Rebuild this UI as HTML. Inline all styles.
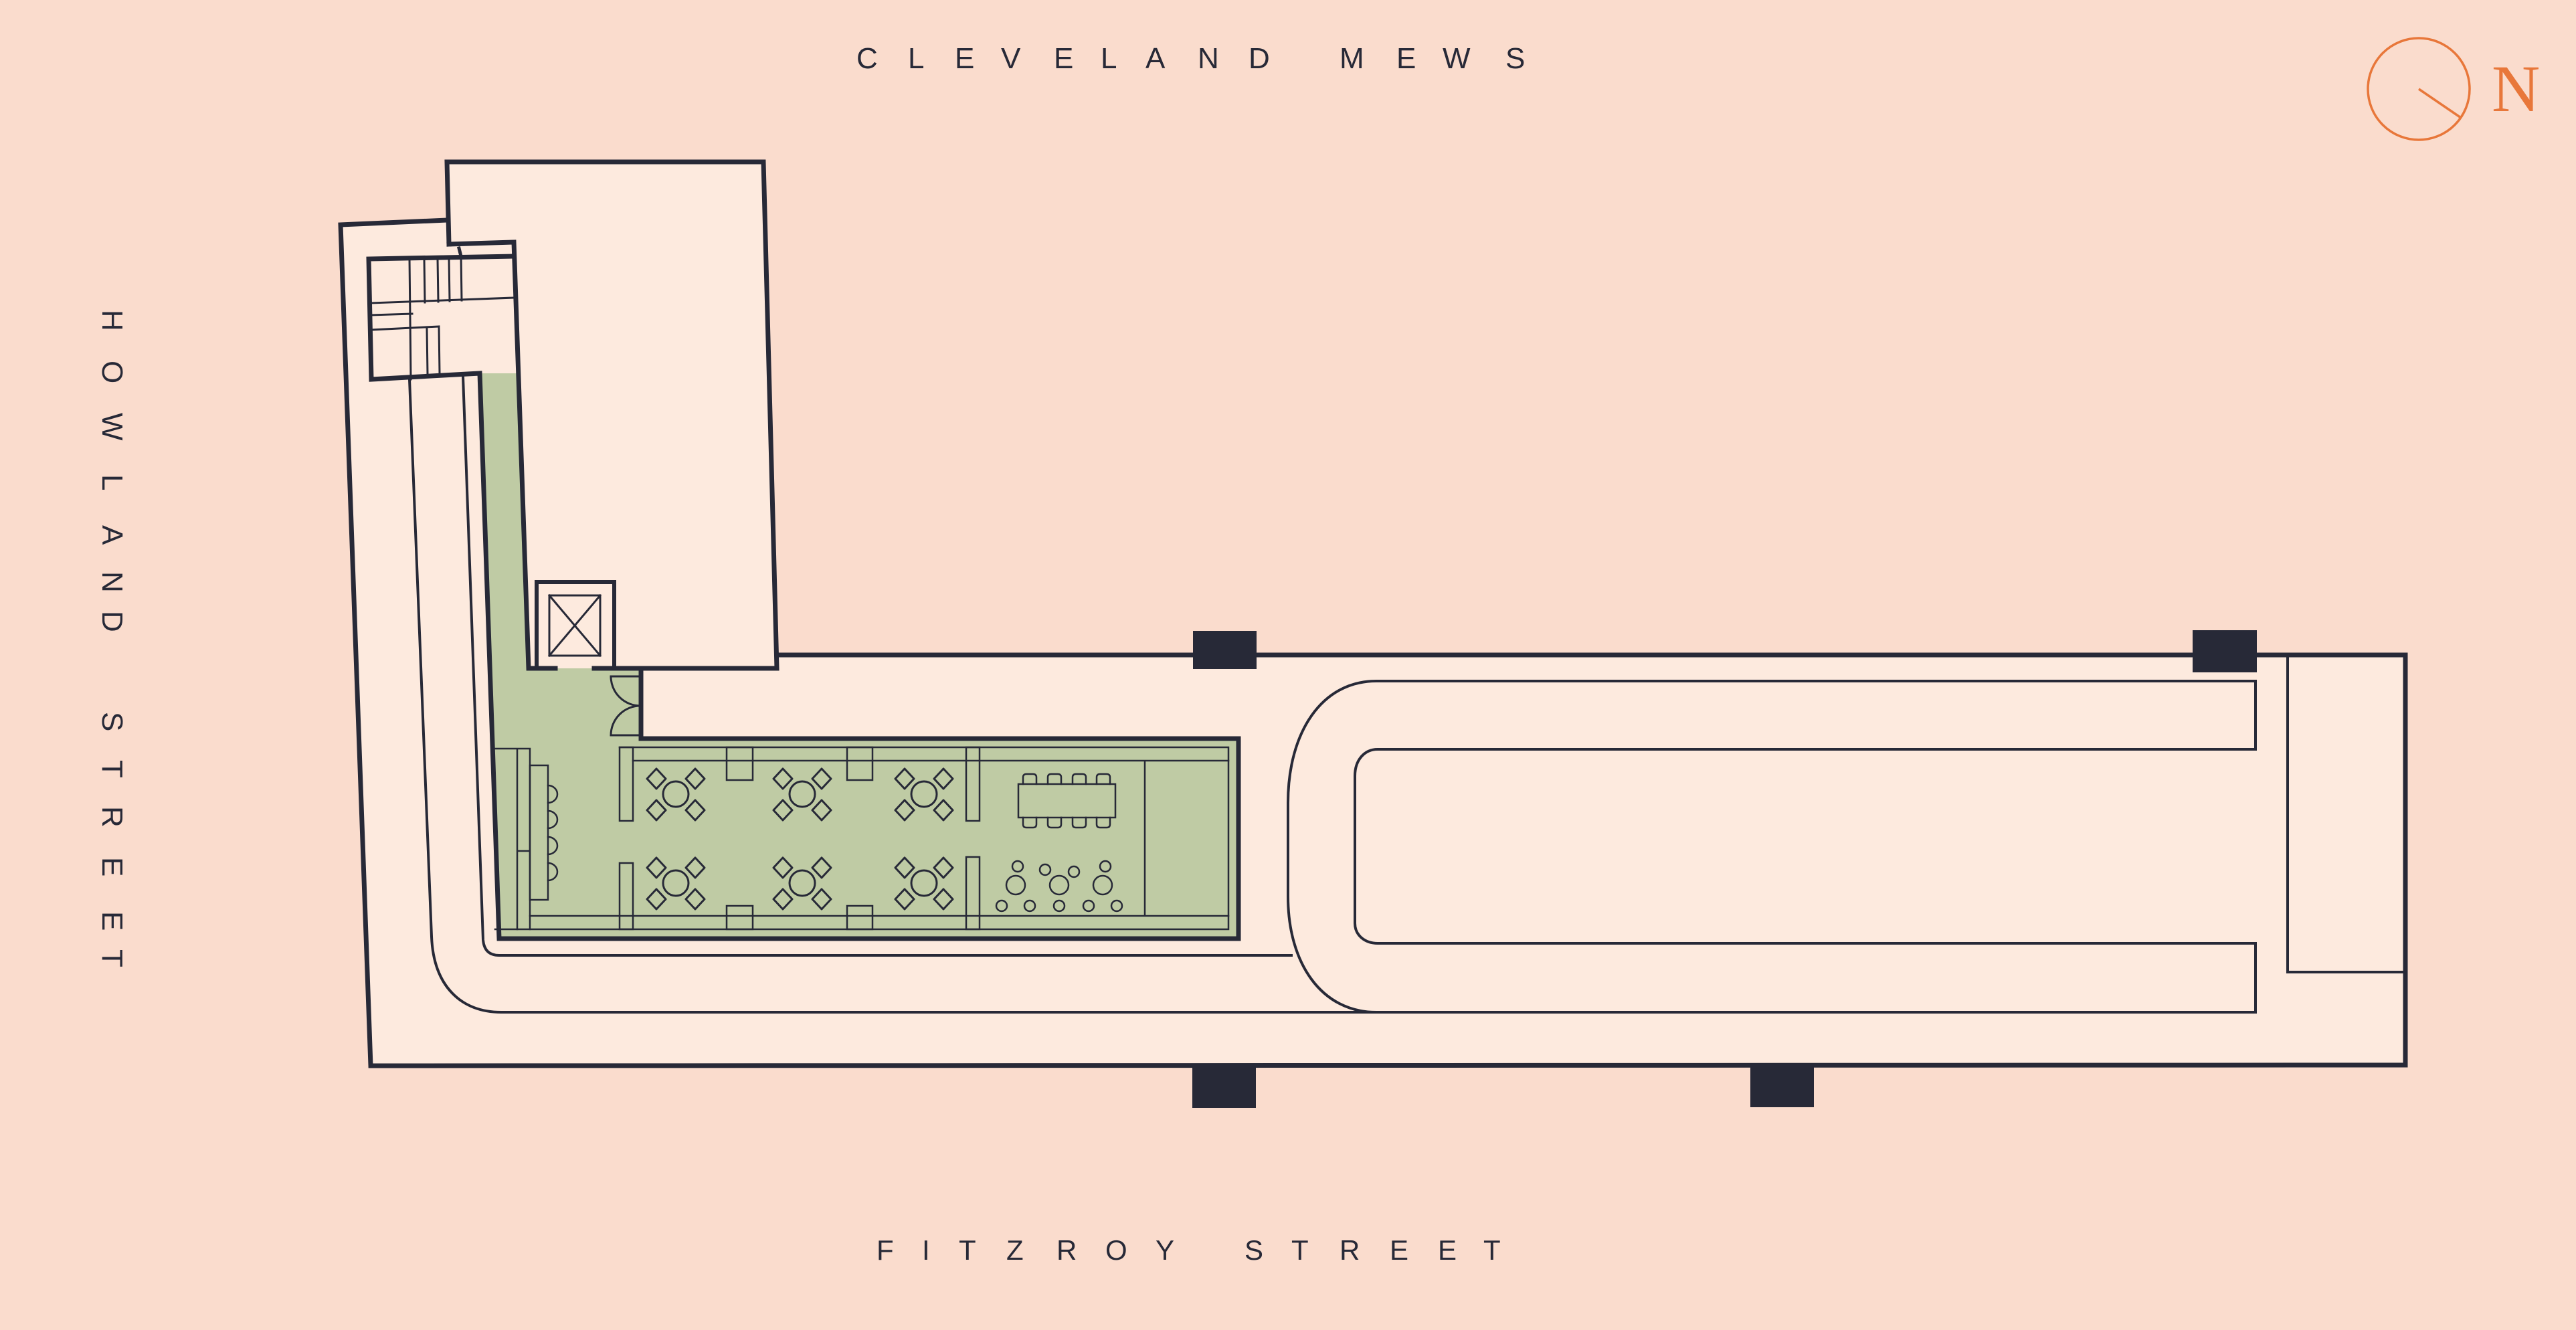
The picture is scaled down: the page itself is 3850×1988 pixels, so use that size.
<!DOCTYPE html>
<html><head><meta charset="utf-8"><style>
html,body{margin:0;padding:0;background:#fadccd;}
svg{display:block;}
text{font-family:"Liberation Sans",sans-serif;fill:#272937;}
</style></head><body>
<svg width="3850" height="1988" viewBox="0 0 3850 1988" xmlns="http://www.w3.org/2000/svg">
<defs>
<g id="tbl" fill="none" stroke="#272937" stroke-width="3" stroke-linejoin="round">
<circle cx="0" cy="0" r="19"/>
<path d="M-29,-38 L-15,-23 L-29,-8 L-43,-23Z"/>
<path d="M29,-38 L43,-23 L29,-8 L15,-23Z"/>
<path d="M-29,9 L-15,24 L-29,39 L-43,24Z"/>
<path d="M29,9 L43,24 L29,39 L15,24Z"/>
</g>
</defs>
<rect width="3850" height="1988" fill="#fadccd"/>

<polygon points="509,336 668,329 668,242 1141,242 1161,979 3595,979 3595,1592 554,1593" fill="#fdeade"/>
<polygon points="717,558 775,558 790,999 958,999 958,1104 1851,1104 1851,1403 746,1403" fill="#bfcba4"/>
<rect x="802" y="870" width="116" height="129" fill="#fdeade"/>

<g fill="none" stroke="#272937" stroke-linecap="square" stroke-linejoin="miter">
<path d="M668,329 L509,336 L554,1593 L3595,1592 L3595,979 L1161,979" stroke-width="7"/>
<path d="M671,365 L668,242 L1141,242 L1161,999 L888,999" stroke-width="7"/>
<path d="M830,999 L790,999 L768,362 L671,365" stroke-width="7"/>
<path d="M686,371 L689,383" stroke-width="5"/>
<path d="M768,383 L551,387 L555,567 L717,558 L746,1403 L1851,1403 L1851,1104 L958,1104 L958,999" stroke-width="7"/>
<path d="M555,453 L768,445 M555,471 L616,469 M555,493 L656,488 M656,488 L657,558 M638,491 L639,559" stroke-width="3"/>
<path d="M612,387 L614,567 M634,387 L635,452 M654,387 L655,451 M671,386 L672,450 M689,383 L690,449" stroke-width="3"/>
<path d="M802,999 L802,870 L918,870 L918,999" stroke-width="6"/>
<rect x="821" y="890" width="76" height="90" stroke-width="3"/>
<path d="M821,890 L897,980 M897,890 L821,980" stroke-width="3"/>
<path d="M913,1011 L957,1011 M913,1011 A44,44 0 0 0 957,1055 M957,1055 A44,44 0 0 0 913,1099 L957,1099" stroke-width="3"/>
<path d="M612,567 L645,1400 C648,1475 690,1513 749,1513 L3371,1513" stroke-width="4"/>
<path d="M692,563 L722,1405 Q724,1428 746,1428 L1930,1428" stroke-width="4"/>
<path d="M3371,1513 L3371,1410 L2059,1410 C2040,1410 2025,1398 2025,1380 L2025,1160 C2025,1135 2040,1120 2059,1120 L3371,1120 L3371,1018 L2057,1018 C1975,1018 1925,1095 1925,1200 L1925,1340 C1925,1440 1975,1513 2057,1513" stroke-width="4"/>
<path d="M3419,979 L3419,1453 L3595,1453" stroke-width="4"/>

<g stroke-width="2.5">
<path d="M926,1117 L1836,1117 L1836,1389 L740,1389"/>
<path d="M946,1137 L1836,1137 M792,1369 L1836,1369 M1711,1137 L1711,1369"/>
<path d="M740,1119 L792,1119 M773,1119 L773,1389 M792,1119 L792,1389 M773,1272 L792,1272"/>
<rect x="792" y="1144" width="27" height="201"/>
<path d="M819,1174 A14,13 0 0 1 819,1200 M819,1212 A14,13 0 0 1 819,1238 M819,1251 A14,13 0 0 1 819,1277 M819,1290 A14,13 0 0 1 819,1316"/>
<rect x="926" y="1117" width="20" height="110"/>
<rect x="926" y="1290" width="20" height="99"/>
<rect x="1444" y="1117" width="20" height="110"/>
<rect x="1444" y="1281" width="20" height="108"/>
<rect x="1086" y="1117" width="39" height="49"/>
<rect x="1266" y="1117" width="38" height="49"/>
<rect x="1086" y="1354" width="39" height="35"/>
<rect x="1266" y="1354" width="38" height="35"/>
<rect x="1522" y="1172" width="145" height="50"/>
<path d="M1529,1172 L1529,1162 Q1529,1157 1534,1157 L1544,1157 Q1549,1157 1549,1162 L1549,1172 M1566,1172 L1566,1162 Q1566,1157 1571,1157 L1581,1157 Q1586,1157 1586,1162 L1586,1172 M1603,1172 L1603,1162 Q1603,1157 1608,1157 L1618,1157 Q1623,1157 1623,1162 L1623,1172 M1639,1172 L1639,1162 Q1639,1157 1644,1157 L1654,1157 Q1659,1157 1659,1162 L1659,1172"/>
<path d="M1529,1222 L1529,1232 Q1529,1237 1534,1237 L1544,1237 Q1549,1237 1549,1232 L1549,1222 M1566,1222 L1566,1232 Q1566,1237 1571,1237 L1581,1237 Q1586,1237 1586,1232 L1586,1222 M1603,1222 L1603,1232 Q1603,1237 1608,1237 L1618,1237 Q1623,1237 1623,1232 L1623,1222 M1639,1222 L1639,1232 Q1639,1237 1644,1237 L1654,1237 Q1659,1237 1659,1232 L1659,1222"/>
<circle cx="1518" cy="1323" r="14"/><circle cx="1583" cy="1323" r="14"/><circle cx="1648" cy="1323" r="14"/>
<circle cx="1521" cy="1295" r="8"/><circle cx="1562" cy="1300" r="8"/><circle cx="1605" cy="1303" r="8"/><circle cx="1652" cy="1295" r="8"/>
<circle cx="1497" cy="1354" r="8"/><circle cx="1539" cy="1354" r="8"/><circle cx="1583" cy="1354" r="8"/><circle cx="1627" cy="1354" r="8"/><circle cx="1669" cy="1354" r="8"/>
</g>
</g>
<use href="#tbl" x="1010" y="1187"/><use href="#tbl" x="1199" y="1187"/><use href="#tbl" x="1381" y="1187"/>
<use href="#tbl" x="1010" y="1320"/><use href="#tbl" x="1199" y="1320"/><use href="#tbl" x="1381" y="1320"/>

<g fill="#272937">
<rect x="1783" y="943" width="95" height="57"/>
<rect x="3277" y="942" width="96" height="63"/>
<rect x="1782" y="1592" width="95" height="64"/>
<rect x="2616" y="1592" width="95" height="63"/>
</g>

<circle cx="3615" cy="133" r="76" fill="none" stroke="#e8773a" stroke-width="3.5"/>
<line x1="3615" y1="133" x2="3678" y2="176" stroke="#e8773a" stroke-width="3.5"/>
<text x="3724" y="166" style="font-family:'Liberation Serif',serif;fill:#e8773a;font-size:100px;">N</text>

<text y="102" style="font-size:44px;" x="1280 1357 1427 1496 1575 1645 1712 1790 1866 2002 2087 2156 2250">CLEVELANDMEWS</text>
<text y="1883" style="font-size:42px;" x="1310 1378 1433 1504 1579 1652 1727 1860 1930 2002 2077 2149 2217">FITZROYSTREET</text>
<text transform="translate(153,0) rotate(90)" style="font-size:44px;" x="463 539 617 709 785 854 913 1064 1136 1205 1281 1362 1419" y="0">HOWLANDSTREET</text>
</svg>
</body></html>
